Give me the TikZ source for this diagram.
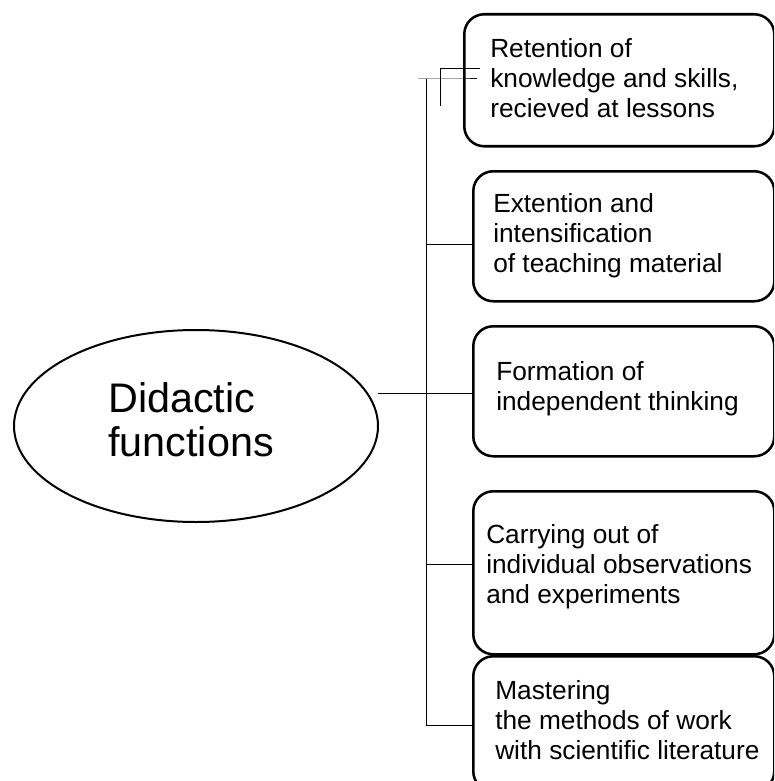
\documentclass[tikz,border=0pt]{standalone}
\usepackage{fontspec}
\setmainfont{Liberation Sans}
\usetikzlibrary{shapes.geometric}

\begin{document}
\begin{tikzpicture}[x=0.75pt,y=-0.75pt,
		funcbox/.style={draw=black,line width=1.9pt,rounded corners=15pt,anchor=north west,inner sep=0pt},
		boxtext/.style={anchor=west,align=left,inner sep=0pt,font=\fontsize{19.7}{22.5}\selectfont},
		link/.style={line width=0.75pt}]
	\clip (0,0) rectangle (774,781);
	
	\node[draw=black,line width=1.5pt,ellipse,minimum width=273pt,minimum height=144pt,inner sep=0pt] (didactic) at (196,426) {};
	\node[anchor=west,align=left,inner sep=0pt,font=\fontsize{31}{33}\selectfont] (didlbl) at (108,420) {Didactic\\functions};
	
	\node[funcbox,minimum width=232.5pt,minimum height=99pt] (box1) at (463,13) {};
	\node[funcbox,minimum width=225.75pt,minimum height=97.5pt] (box2) at (472,170) {};
	\node[funcbox,minimum width=225.75pt,minimum height=97.5pt] (box3) at (472,325) {};
	\node[funcbox,minimum width=225.75pt,minimum height=122.25pt] (box4) at (472,490) {};
	\node[funcbox,minimum width=225.75pt,minimum height=101.25pt] (box5) at (472,655) {};
	
	\node[boxtext] (retention) at (490,78) {Retention of\\knowledge and skills,\\recieved at lessons};
	\node[boxtext] (extention) at (493,236) {Extention and\\intensification\\of teaching material};
	\node[boxtext] (formation) at (496,389) {Formation of\\independent thinking};
	\node[boxtext] (carrying) at (486,567) {Carrying out of\\individual observations\\and experiments};
	\node[boxtext] (mastering) at (495,720) {Mastering\\the methods of work\\with scientific literature};
	
	% trunk and branches
	\coordinate (top) at (426,79);
	\coordinate (bottom) at (426,725);
	\coordinate (start) at (418,79);
	\coordinate (hook) at (440,106);
	\coordinate (j2) at (426,244);
	\coordinate (j3) at (378,393);
	\coordinate (j4) at (426,564);
	
	\draw[link] (top) -- (bottom);
	\draw[link] (start) -- (start -| box1.west) -- ++(14,0);
	\draw[link] (hook) -- (440,69) -- (480,69);
	\draw[link] (j2) -- (j2 -| box2.west);
	\draw[link] (j3) -- (j3 -| box3.west);
	\draw[link] (j4) -- (j4 -| box4.west);
	\draw[link] (bottom) -- (bottom -| box5.west);
\end{tikzpicture}
\end{document}
